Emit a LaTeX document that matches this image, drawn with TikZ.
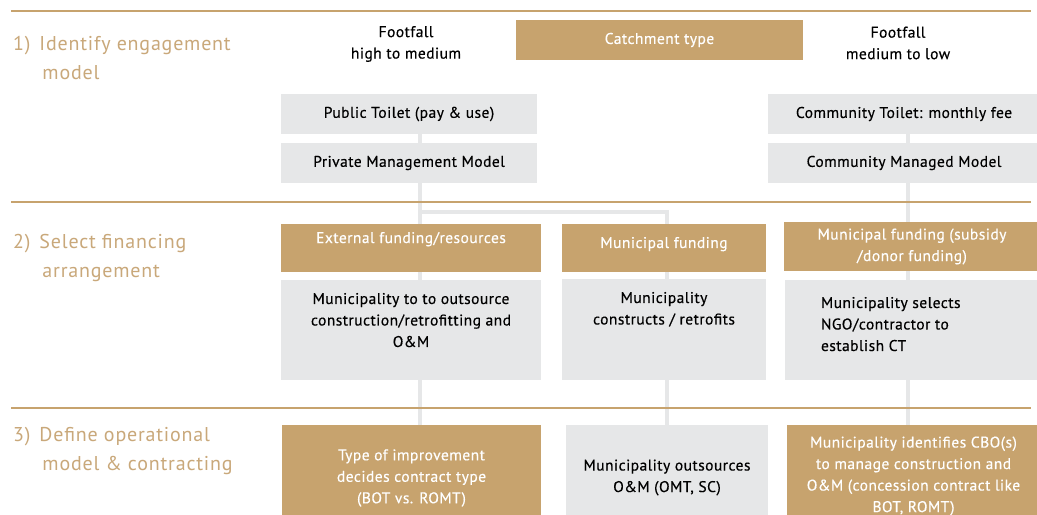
\documentclass[tikz,border=0pt]{standalone}
\usepackage{fontspec}
\setmainfont{PT Sans}[LetterSpace=3, FakeBold=0.4]
\newfontfamily\stagefont{PT Sans}[LetterSpace=4]
\usetikzlibrary{backgrounds}
\definecolor{gold}{RGB}{199,163,110}
\definecolor{stagegold}{RGB}{201,168,122}
\definecolor{boxgrey}{RGB}{230,231,232}
\newcommand{\bodyfont}{\fontsize{15.5bp}{21.5bp}\selectfont}
% top aligned text in a box of fixed height
\newcommand{\toptext}[4]{\parbox[c][#1][t]{#2}{\vspace*{#3}\centering #4}}
\newcommand{\stagegap}{\hspace*{9bp}}
\tikzstyle{greybox}=[fill=boxgrey, text=black, inner sep=0pt, align=center, font=\bodyfont]
\tikzstyle{goldbox}=[fill=gold, text=white, inner sep=0pt, align=center, font=\bodyfont]
\tikzstyle{plain}=[inner sep=0pt, align=center, font=\bodyfont]
\tikzstyle{stage}=[text=stagegold, anchor=west, align=left, inner sep=0pt, font=\stagefont\fontsize{20bp}{29bp}\selectfont]
\tikzstyle{link}=[draw=boxgrey, line width=4bp]
\tikzstyle{rule}=[draw=gold, line width=2.5bp]

\begin{document}
\begin{tikzpicture}[x=1bp, y=-1bp]
    \clip (0,0) rectangle (1037,515);

    % stages
    \node[stage] (stage1) at (13,60.5) {1)\stagegap Identify engagement\\\phantom{1)}\stagegap\hspace*{3bp}model};
    \node[stage] (stage2) at (13,258) {2)\stagegap Select financing\\\phantom{2)}\stagegap\hspace*{3bp}arrangement};
    \node[stage] (stage3) at (13,451) {3)\stagegap Define operational\\\phantom{3)}\stagegap\hspace*{3bp}model \& contracting};

    % 1) engagement model
    \node[goldbox, minimum width=287bp, minimum height=40bp] (cat) at (659.5,40) {Catchment type};
    \node[plain] (ffhi) at (406,44) {Footfall\\high to medium};
    \node[plain] (fflo) at (898,43) {Footfall\\medium to low};
    \node[greybox, minimum width=256bp, minimum height=40bp] (pt) at (409,114) {Public Toilet (pay \& use)};
    \node[greybox, minimum width=256bp, minimum height=40bp] (pmm) at (409,163) {Private Management Model};
    \node[greybox, minimum width=272bp, minimum height=40bp] (ct) at (904,114) {Community Toilet: monthly fee};
    \node[greybox, minimum width=272bp, minimum height=40bp] (cmm) at (904,163) {Community Managed Model};

    % 2) financing
    \node[goldbox] (ext) at (411,248) {\toptext{48bp}{260bp}{8bp}{External funding/resources}};
    \node[greybox] (extout) at (411,330) {\toptext{100bp}{260bp}{13bp}{Municipality to to outsource\\construction/retrofitting and\\O\&M}};
    \node[goldbox] (mun) at (664,248) {\toptext{48bp}{204bp}{13bp}{Municipal funding}};
    \node[greybox] (muncon) at (664,329.5) {\toptext{101bp}{204bp}{13bp}{Municipality\\constructs / retrofits}};
    \node[goldbox, minimum width=256bp, minimum height=49bp] (sub) at (912,246.5) {Municipal funding (subsidy\\/donor funding)};
    \node[greybox] (subsel) at (912.5,330) {\parbox[c][100bp][t]{255bp}{\vspace*{17bp}\raggedright\leftskip=36bp
        Municipality selects\\NGO/contractor to\\establish CT}};

    % 3) operation and contracting
    \node[goldbox, minimum width=259bp, minimum height=106bp] (imp) at (411.5,478) {Type of improvement\\decides contract type\\(BOT vs. ROMT)};
    \node[greybox, minimum width=202bp, minimum height=105bp] (omout) at (667,477.5) {Municipality outsources\\O\&M (OMT, SC)};
    \node[goldbox, minimum width=253bp, minimum height=102bp] (cbo) at (913.5,476) {Municipality identifies CBO(s)\\to manage construction and\\O\&M (concession contract like\\BOT, ROMT)};

    \begin{scope}[on background layer]
        \fill[white] (0,0) rectangle (1037,515);
        \coordinate (fork) at (420,212);
        \coordinate (trunk) at (908,0);
        \draw[link] (pt.south -| fork) -- (imp.north -| fork);
        \draw[link] (fork) -| (omout.north);
        \draw[link] (ct.south -| trunk) -- (cbo.north -| trunk);
        \draw[rule] (11,11) -- (1031,11);
        \draw[rule] (11,202) -- (1031,202);
        \draw[rule] (11,408) -- (1031,408);
    \end{scope}
\end{tikzpicture}
\end{document}
